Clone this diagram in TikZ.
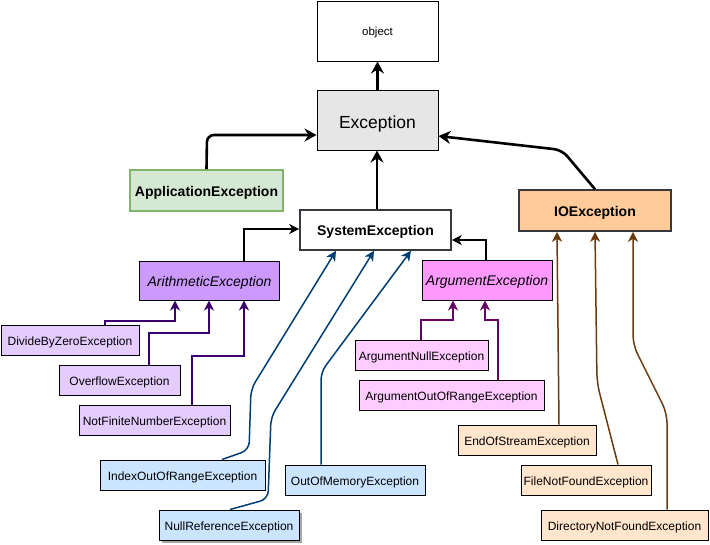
\documentclass[tikz,border=0pt]{standalone}
\usepackage{fontspec}
\setmainfont{Liberation Sans}
\usetikzlibrary{arrows.meta,shadows}
\definecolor{appfill}{HTML}{D5E8D4}
\definecolor{appdraw}{HTML}{82B366}
\definecolor{excfill}{HTML}{E6E6E6}
\definecolor{darkgrey}{HTML}{36393D}
\definecolor{iofill}{HTML}{FFCC99}
\definecolor{arithfill}{HTML}{CC99FF}
\definecolor{argfill}{HTML}{FF99FF}
\definecolor{arithkid}{HTML}{E5CCFF}
\definecolor{argkid}{HTML}{FFCCFF}
\definecolor{syskid}{HTML}{CCE5FF}
\definecolor{iokid}{HTML}{FFE6CC}
\definecolor{arithline}{HTML}{3C006E}
\definecolor{argline}{HTML}{660066}
\definecolor{sysline}{HTML}{003D73}
\definecolor{ioline}{HTML}{6B3A0F}
\tikzset{
  box/.style={draw, line width=1pt, inner sep=0pt, text height=12pt, text depth=2pt, font=\fontsize{12}{14}\selectfont},
  boldbox/.style={box, line width=1.6pt, text height=13pt, font=\fontsize{14}{16}\selectfont\bfseries},
  italbox/.style={box, text height=13pt, font=\fontsize{14}{16}\selectfont\itshape},
  thickarrow/.style={line width=2.6pt, -{Stealth[length=12pt,width=13pt,inset=4pt]}},
  thinarrow/.style={line width=1.3pt, -{Stealth[length=10pt,width=10pt,inset=3pt]}},
  kidarrow/.style={line width=1.5pt, -{Stealth[length=10pt,width=10pt,inset=3pt]}},
}
\begin{document}
\begin{tikzpicture}[x=1pt,y=-1pt]
\useasboundingbox (0,0) rectangle (710,544);
% main boxes
\node[box, minimum width=121pt, minimum height=60pt, text height=10pt, font=\fontsize{11.5}{13}\selectfont] (obj) at (377.5,31) {object};
\node[box, fill=excfill, minimum width=121pt, minimum height=60pt, text height=18pt, font=\fontsize{17.5}{20}\selectfont] (exc) at (377.5,120) {Exception};
\node[boldbox, draw=appdraw, fill=appfill, minimum width=153pt, minimum height=41pt] (app) at (206.5,190.5) {ApplicationException};
\node[boldbox, draw=darkgrey, fill=white, minimum width=151pt, minimum height=40pt] (sys) at (375.5,230) {SystemException};
\node[boldbox, draw=darkgrey, fill=iofill, minimum width=152pt, minimum height=41pt] (io) at (595,210.5) {IOException};
\node[italbox, fill=arithfill, minimum width=140pt, minimum height=39pt] (arith) at (209.5,280.5) {ArithmeticException};
\node[italbox, fill=argfill, minimum width=130pt, minimum height=40pt] (arg) at (487,280) {ArgumentException};
% arithmetic children
\node[box, fill=arithkid, minimum width=138pt, minimum height=30pt] (dbz) at (70,340) {DivideByZeroException};
\node[box, fill=arithkid, minimum width=121pt, minimum height=30pt] (ovf) at (119.5,380) {OverflowException};
\node[box, fill=arithkid, minimum width=151pt, minimum height=30pt] (nfn) at (154.5,420) {NotFiniteNumberException};
% argument children
\node[box, fill=argkid, minimum width=133pt, minimum height=30pt] (anull) at (421.5,355) {ArgumentNullException};
\node[box, fill=argkid, minimum width=185pt, minimum height=30pt] (aoor) at (451.5,395) {ArgumentOutOfRangeException};
% system children
\node[box, fill=syskid, minimum width=165pt, minimum height=30pt] (idx) at (182.5,475) {IndexOutOfRangeException};
\node[box, fill=syskid, minimum width=140pt, minimum height=30pt] (oom) at (355,480) {OutOfMemoryException};
\node[box, fill=syskid, minimum width=140pt, minimum height=30pt, drop shadow={shadow xshift=3pt, shadow yshift=-3pt, fill=black!35, opacity=1}] (nref) at (229,525) {NullReferenceException};
% io children
\node[box, fill=iokid, minimum width=138pt, minimum height=30pt] (eos) at (527,440) {EndOfStreamException};
\node[box, fill=iokid, minimum width=130pt, minimum height=30pt] (fnf) at (586,480) {FileNotFoundException};
\node[box, fill=iokid, minimum width=167pt, minimum height=30pt] (dnf) at (624.5,525) {DirectoryNotFoundException};

% thick connectors
\draw[thickarrow] (exc.north) -- (obj.south);
\draw[thickarrow, rounded corners=7pt] (app.north) -- (207,135) -- (exc.west |- 0,135);
\draw[thickarrow] (377,0 |- sys.north) -- (377,0 |- exc.south);
\draw[thickarrow, rounded corners=8pt] (io.north) -- (562,150) -- (exc.east |- 0,136);
% thin black
\draw[thinarrow] (244,0 |- arith.north) -- (244,229) -- (sys.west |- 0,229);
\draw[thinarrow] (486,0 |- arg.north) -- (486,240) -- (sys.east |- 0,240);
% arithmetic children
\draw[kidarrow, arithline] (105,0 |- dbz.north) -- (105,321) -- (175,321) -- (175,0 |- arith.south);
\draw[kidarrow, arithline] (149,0 |- ovf.north) -- (149,333) -- (209,333) -- (209,0 |- arith.south);
\draw[kidarrow, arithline] (192,0 |- nfn.north) -- (192,356) -- (244,356) -- (244,0 |- arith.south);
% argument children
\draw[kidarrow, argline] (421,0 |- anull.north) -- (421,320) -- (453,320) -- (453,0 |- arg.south);
\draw[kidarrow, argline] (498,0 |- aoor.north) -- (498,320) -- (485,320) -- (485,0 |- arg.south);
% system children
\draw[kidarrow, sysline, rounded corners=8pt] (222,0 |- idx.north) -- (249,450) -- (251,389) -- (336,0 |- sys.south);
\draw[kidarrow, sysline, rounded corners=8pt] (230,0 |- nref.north) -- (268,499) -- (271,417) -- (374,0 |- sys.south);
\draw[kidarrow, sysline, rounded corners=8pt] (321,0 |- oom.north) -- (321,372) -- (411,0 |- sys.south);
% io children
\draw[kidarrow, ioline] (559,0 |- eos.north) -- (557,0 |- io.south);
\draw[kidarrow, ioline, rounded corners=10pt] (618,0 |- fnf.north) -- (597,383) -- (595,0 |- io.south);
\draw[kidarrow, ioline, rounded corners=10pt] (667,0 |- dnf.north) -- (667,413) -- (633,345) -- (633,0 |- io.south);
\end{tikzpicture}
\end{document}
